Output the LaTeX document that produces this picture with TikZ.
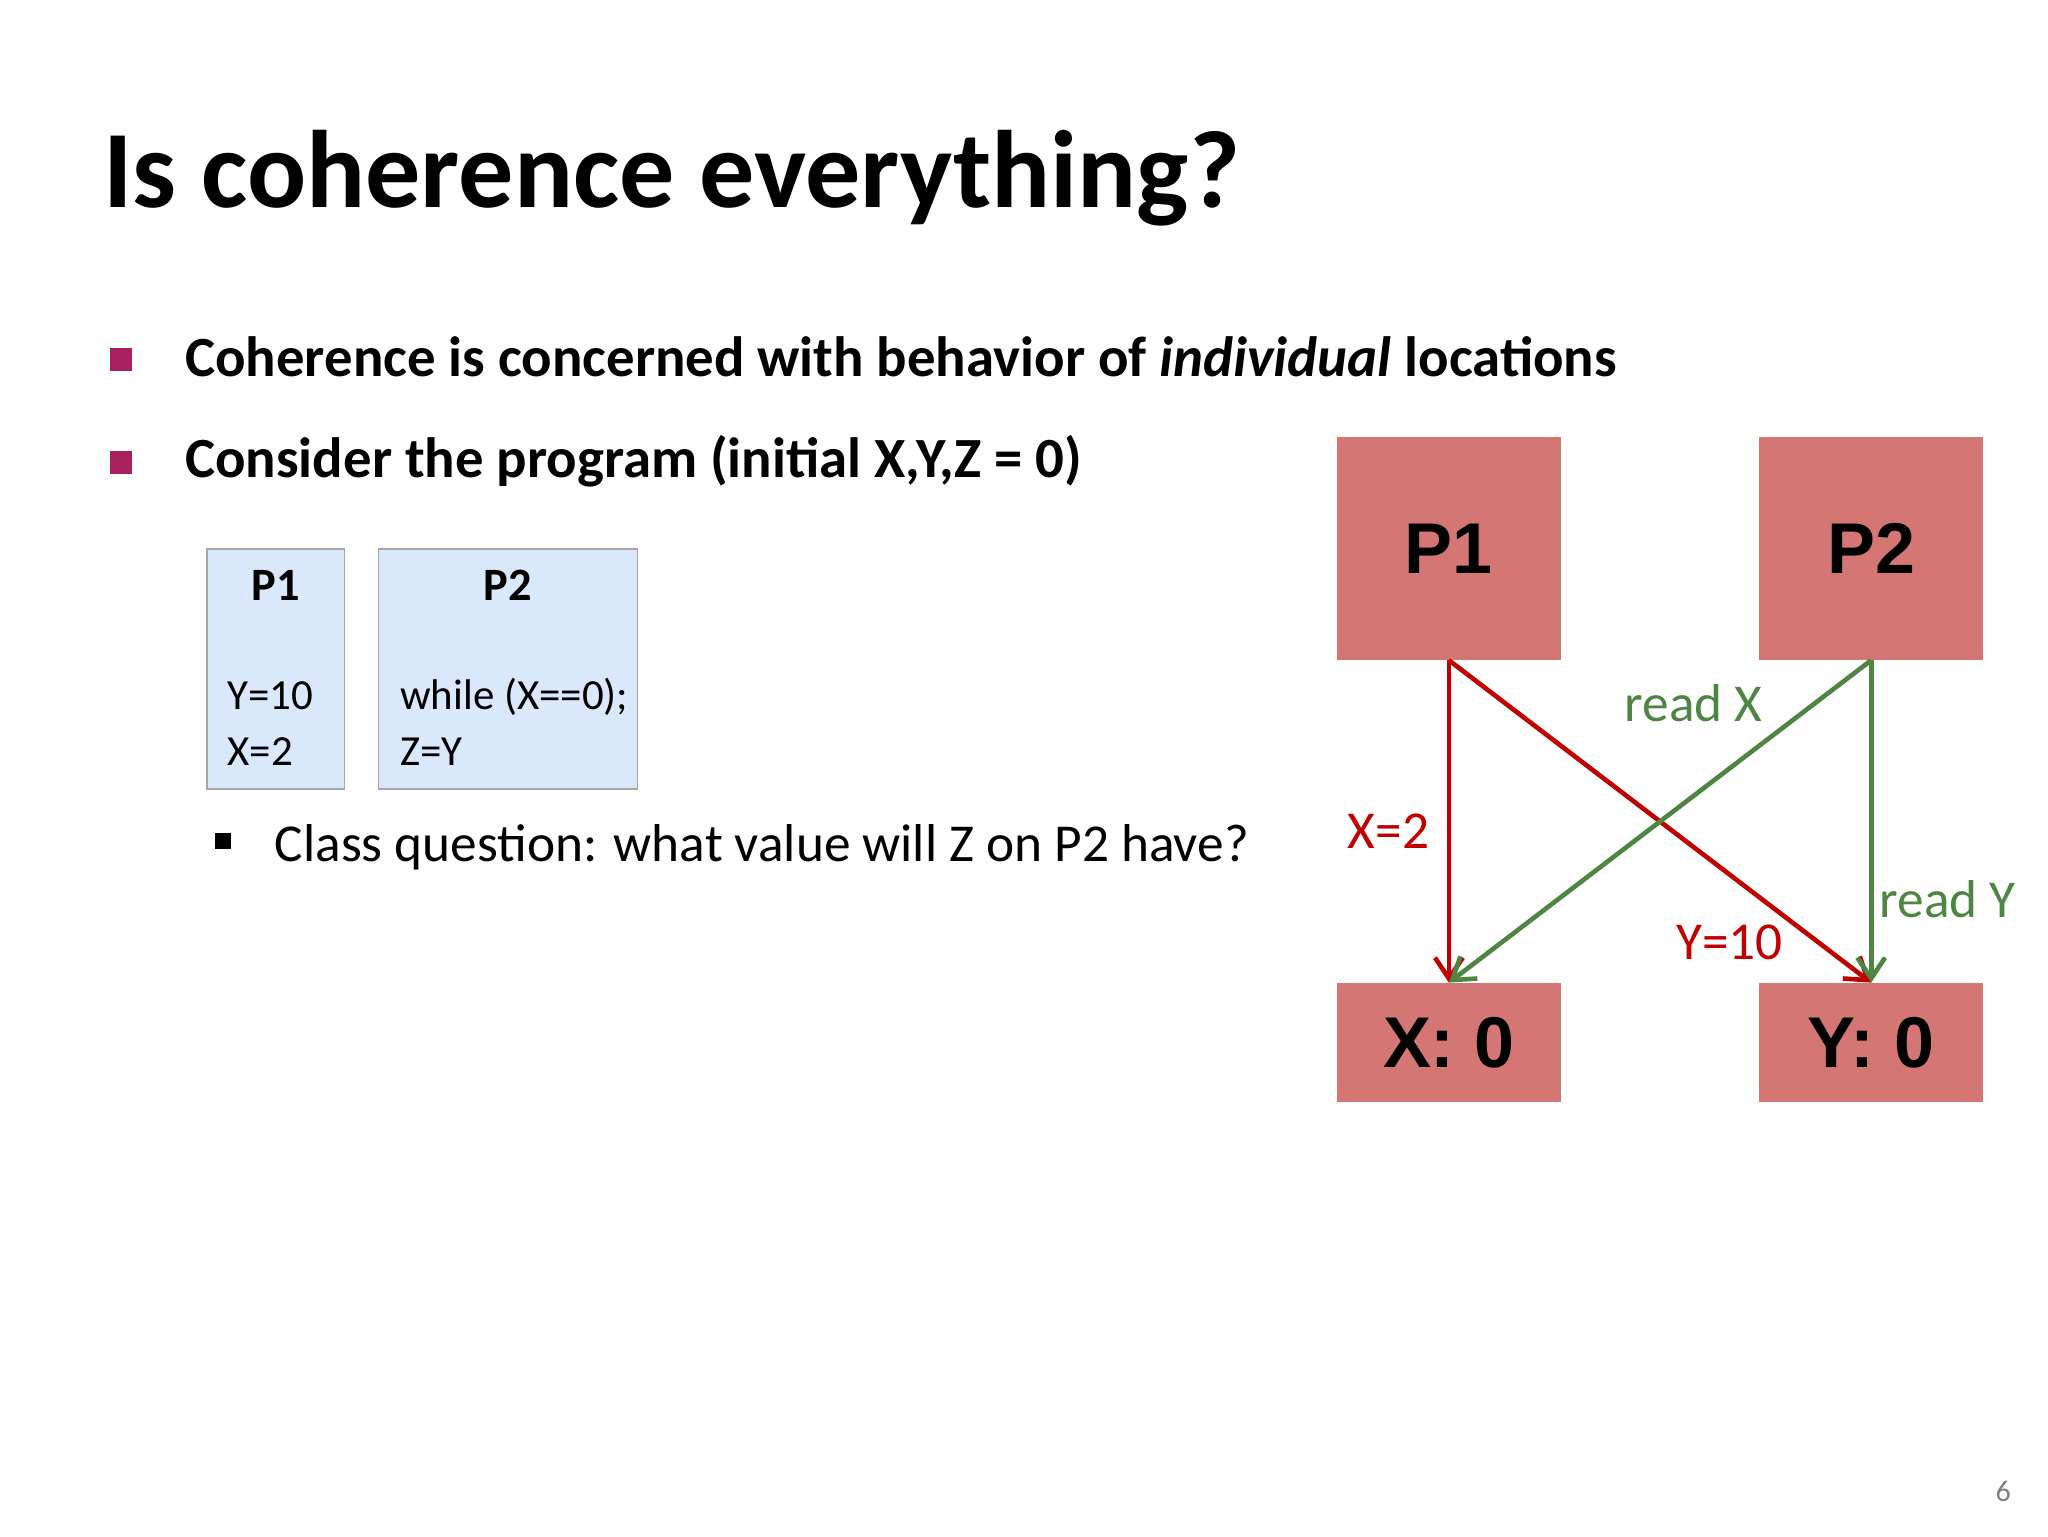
\documentclass[tikz,border=0pt]{standalone}
\usepackage{fontspec}
\setmainfont{Carlito}
\newfontfamily\boxfont{Liberation Sans}
\usetikzlibrary{arrows.meta}
\definecolor{bul}{HTML}{A8215E}
\definecolor{redbox}{HTML}{D47774}
\definecolor{rd}{HTML}{C00000}
\definecolor{gr}{HTML}{4E8542}
\definecolor{codefill}{HTML}{DAE8FC}
\tikzset{
 txt/.style={anchor=base west,inner sep=0},
 ctxt/.style={anchor=base,inner sep=0},
 sq/.style={fill=redbox,draw=none},
 cbox/.style={fill=codefill,draw=gray!70,line width=0.6pt},
 big/.style={font=\boxfont\bfseries\fontsize{31}{31}\selectfont,text=black},
 arr/.style={line width=2pt,-{Straight Barb[length=9pt,width=12pt]}},
}
\begin{document}
\begin{tikzpicture}[x=0.02cm,y=-0.02cm]
\useasboundingbox (0,0) rectangle (1552,1164);
\node[txt,font=\bfseries\fontsize{47.5}{50}\selectfont] (title) at (78,157) {Is coherence everything?};
\fill[bul] (83,264) rectangle (100,281);
\fill[bul] (83,342) rectangle (100,359);
\node[txt,font=\bfseries\fontsize{24.5}{26}\selectfont] (b1) at (140,285) {Coherence is concerned with behavior of \textit{individual} locations};
\node[txt,font=\bfseries\fontsize{24.5}{26}\selectfont] (b2) at (140,362) {Consider the program (initial X,Y,Z = 0)};
\draw[cbox] (157,416) rectangle (261,598);
\draw[cbox] (287,416) rectangle (483,598);
\node[ctxt,font=\bfseries\fontsize{20}{22}\selectfont] (c1) at (209,455) {P1};
\node[ctxt,font=\bfseries\fontsize{20}{22}\selectfont] (c2) at (385,455) {P2};
\node[txt,font=\fontsize{18.5}{20}\selectfont] (c1a) at (172,538) {Y=10};
\node[txt,font=\fontsize{18.5}{20}\selectfont] (c1b) at (172,580) {X=2};
\node[txt,font=\fontsize{18.5}{20}\selectfont] (c2a) at (303,538) {while (X==0);};
\node[txt,font=\fontsize{18.5}{20}\selectfont] (c2b) at (303,580) {Z=Y};
\fill (163,631) rectangle (175,643);
\node[txt,font=\fontsize{23}{25}\selectfont] (q) at (208,653) {Class question: what value will Z on P2 have?};
\node[sq,minimum width=170*0.02cm,minimum height=169*0.02cm,big] (P1) at (1098,415.5) {P1};
\node[sq,minimum width=170*0.02cm,minimum height=169*0.02cm,big] (P2) at (1418,415.5) {P2};
\node[sq,minimum width=170*0.02cm,minimum height=90*0.02cm,big] (X) at (1098,790) {X: 0};
\node[sq,minimum width=170*0.02cm,minimum height=90*0.02cm,big] (Y) at (1418,790) {Y: 0};
\draw[arr,rd] (P1.south) -- (X.north);
\draw[arr,rd] (P1.south) -- (Y.north);
\draw[arr,gr] (P2.south) -- (X.north);
\draw[arr,gr] (P2.south) -- (Y.north);
\node[txt,text=rd,font=\fontsize{23}{25}\selectfont] (l1) at (1021,643) {X=2};
\node[txt,text=rd,font=\fontsize{23}{25}\selectfont] (l2) at (1270,727) {Y=10};
\node[txt,text=gr,font=\fontsize{23}{25}\selectfont] (l3) at (1231,547) {read X};
\node[txt,text=gr,font=\fontsize{23}{25}\selectfont] (l4) at (1424,695) {read Y};
\node[txt,text=gray,font=\fontsize{13}{14}\selectfont] (pg) at (1512,1138) {6};
\end{tikzpicture}
\end{document}
